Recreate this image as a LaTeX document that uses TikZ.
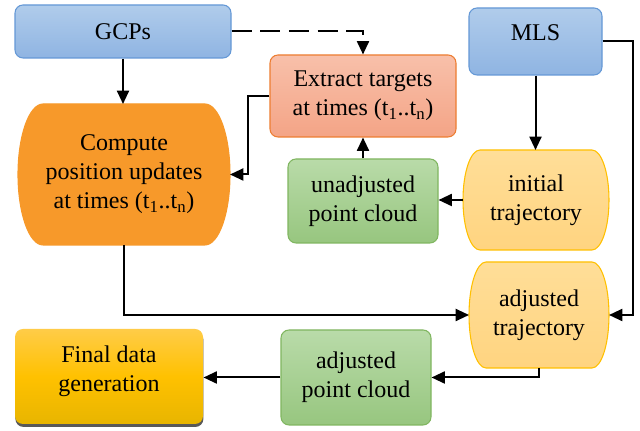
\documentclass[tikz,border=0pt]{standalone}
\usepackage{fontspec}
\setmainfont{Liberation Serif}
\usetikzlibrary{arrows.meta,positioning,calc,backgrounds,shadows}
\definecolor{gcpblue}{RGB}{176,204,235}
\definecolor{gcpbluedark}{RGB}{143,180,226}
\definecolor{gcpborder}{RGB}{100,152,214}
\definecolor{targetlight}{RGB}{248,192,170}
\definecolor{targetdark}{RGB}{244,164,134}
\definecolor{targetborder}{RGB}{237,125,49}
\definecolor{cloudlight}{RGB}{185,219,169}
\definecolor{clouddark}{RGB}{151,198,127}
\definecolor{cloudborder}{RGB}{128,182,96}
\definecolor{trajlight}{RGB}{255,222,152}
\definecolor{trajfill}{RGB}{255,212,128}
\definecolor{trajborder}{RGB}{255,192,0}
\definecolor{computeorange}{RGB}{247,153,42}
\definecolor{finallight}{RGB}{255,204,72}
\definecolor{finalmid}{RGB}{255,193,0}
\definecolor{finaldark}{RGB}{232,181,0}
\tikzset{
    flowbase/.style={
        rectangle,
        rounded corners=6pt,
        line width=0.8pt,
        align=center,
        font=\fontsize{18}{21.75}\selectfont
    },
    inputnode/.style={flowbase, top color=gcpblue, bottom color=gcpbluedark, draw=gcpborder},
    targetnode/.style={flowbase, top color=targetlight, bottom color=targetdark, draw=targetborder},
    cloudnode/.style={flowbase, top color=cloudlight, bottom color=clouddark, draw=cloudborder},
    finalnode/.style={flowbase, top color=finallight, bottom color=finaldark, middle color=finalmid,
        drop shadow={shadow xshift=0.3pt, shadow yshift=-2.2pt, fill=black!65, opacity=1}},
    bulgenode/.style={rectangle, outer sep=0pt, align=center, font=\fontsize{18}{21.75}\selectfont},
    line/.style={-{Triangle[length=10pt,width=9pt]}, line width=1.5pt, draw=black},
    dashline/.style={line, dash pattern=on 15pt off 6.5pt},
}
% box with flat top and bottom and bowed sides, drawn behind a node
\newcommand{\bulgeshape}[3]{%
    \begin{pgfonlayer}{background}
        \path[#3] let \p1=(#1.north west), \p2=(#1.south east), \n1={(\y1-\y2)/2} in
            (\x1+#2,\y1) -- (\x2-#2,\y1)
            arc[start angle=90, end angle=-90, x radius=#2, y radius=\n1]
            -- (\x1+#2,\y2)
            arc[start angle=270, end angle=90, x radius=#2, y radius=\n1] -- cycle;
    \end{pgfonlayer}
}

\begin{document}
\begin{tikzpicture}[x=0.75pt, y=0.75pt]
    \begin{pgfonlayer}{background}
        \fill[white] (0,0) rectangle (640,431);
    \end{pgfonlayer}
    \useasboundingbox (0,0) rectangle (640,431);

    \node[inputnode, minimum width=162pt, minimum height=39.75pt] (gcps) at (123,399.5) {GCPs};
    \node[inputnode, minimum width=99.75pt, minimum height=50.25pt, text height=12pt, text depth=13pt] (mls) at (535.5,389.5) {MLS};
    \node[targetnode, minimum width=139.5pt, minimum height=61.5pt] (extract) at (363,335) {Extract targets\\at times (t\textsubscript{1}..t\textsubscript{n})};
    \node[bulgenode, minimum width=159pt, minimum height=105.75pt] (compute) at (124,256.5) {Compute\\position updates\\at times (t\textsubscript{1}..t\textsubscript{n})};
    \node[cloudnode, minimum width=112.5pt, minimum height=63pt] (unadjusted) at (363,230) {unadjusted\\point cloud};
    \node[bulgenode, minimum width=109.5pt, minimum height=75pt] (initial) at (536,231) {initial\\trajectory};
    \node[bulgenode, minimum width=105pt, minimum height=79.5pt] (adjtraj) at (539,116) {adjusted\\trajectory};
    \node[cloudnode, minimum width=112.5pt, minimum height=71.25pt] (adjcloud) at (356,53.5) {adjusted\\point cloud};
    \node[finalnode, minimum width=141pt, minimum height=71.25pt, text height=34pt, text depth=12pt] (final) at (109,54.5) {Final data\\generation};

    \bulgeshape{compute}{18.75pt}{fill=computeorange, draw=computeorange, line width=0.8pt}
    \bulgeshape{initial}{12.75pt}{top color=trajlight, bottom color=trajfill, draw=trajborder, line width=0.8pt}
    \bulgeshape{adjtraj}{12.75pt}{top color=trajlight, bottom color=trajfill, draw=trajborder, line width=0.8pt}

    \draw[line] (gcps.south) -- (gcps.south |- compute.north);
    \draw[dashline] (gcps.east) -| (extract.north);
    \draw[line] (extract.west) -- ++(-21,0) |- (compute.east);
    \draw[line] (unadjusted.north) -- (extract.south);
    \draw[line] (mls.south) -- (mls.south |- initial.north);
    \draw[line] (initial.west) -- (initial.west -| unadjusted.east);
    \draw[line] (mls.east) -- ++(30,0) |- (adjtraj.east);
    \draw[line] (compute.south) |- (adjtraj.west);
    \draw[line] (adjtraj.south) |- (adjcloud.east);
    \draw[line] (adjcloud.west) -- (adjcloud.west -| final.east);
\end{tikzpicture}
\end{document}
